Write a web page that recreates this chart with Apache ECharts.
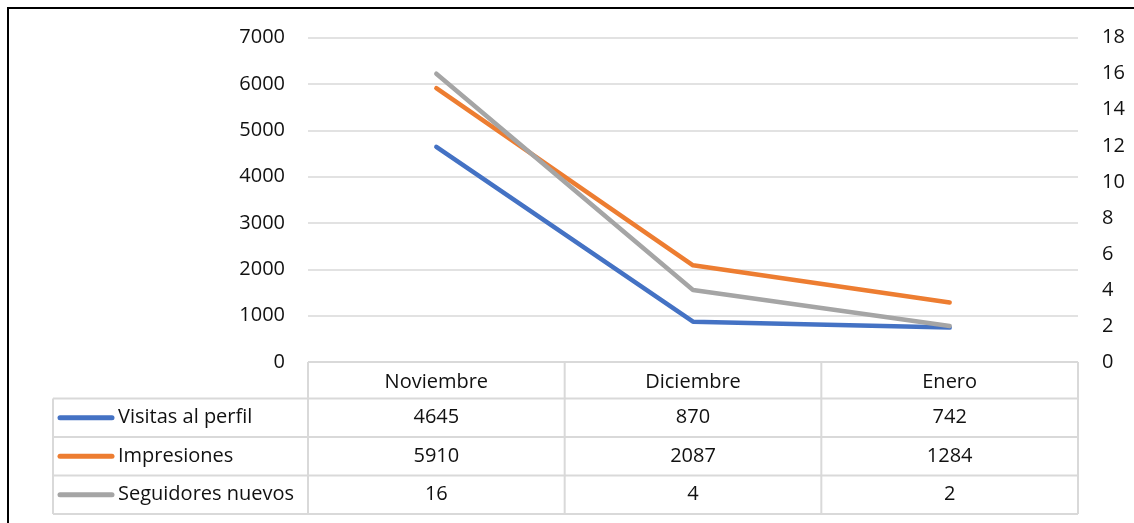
<!DOCTYPE html>
<html>
<head>
<meta charset="utf-8">
<script src="https://cdn.jsdelivr.net/npm/echarts@6/dist/echarts.min.js"></script>
<style>
  html, body { margin: 0; padding: 0; background: #fff; }
  #main { width: 1134px; height: 523px; }
</style>
</head>
<body>
<div id="main"></div>
<script>
// data
const months = ['Noviembre', 'Diciembre', 'Enero']
const visitas = [4645, 870, 742]
const impresiones = [5910, 2087, 1284]
const seguidores = [16, 4, 2]
const seriesNames = ['Visitas al perfil', 'Impresiones', 'Seguidores nuevos']
const colors = ['#4472C4', '#ED7D31', '#A5A5A5']

const font = '"Open Sans", "Noto Sans", sans-serif'
const txt = '#111'
const gridColor = '#d9d9d9'

let chart = echarts.init(document.getElementById('main'))

chart.setOption({
  animation: false,
  grid: { left: 308, right: 56, top: 37.7, bottom: 161 },
  xAxis: {
    type: 'category',
    data: months,
    boundaryGap: true,
    axisLine: { show: false },
    axisTick: { show: false },
    axisLabel: { color: txt, fontFamily: font, fontSize: 20, margin: 10 },
  },
  yAxis: [
    {
      type: 'value',
      min: 0, max: 7000, interval: 1000,
      axisLine: { show: false },
      axisTick: { show: false },
      axisLabel: { color: txt, fontFamily: font, fontSize: 20, margin: 23, formatter: v => String(v) },
      splitLine: { lineStyle: { color: gridColor, width: 1.5 } },
    },
    {
      type: 'value',
      min: 0, max: 18, interval: 2,
      axisLine: { show: false },
      axisTick: { show: false },
      axisLabel: { color: txt, fontFamily: font, fontSize: 20, margin: 24 },
      splitLine: { show: false },
    },
  ],
  series: [
    { name: seriesNames[0], type: 'line', data: visitas, yAxisIndex: 0 },
    { name: seriesNames[1], type: 'line', data: impresiones, yAxisIndex: 0 },
    { name: seriesNames[2], type: 'line', data: seguidores, yAxisIndex: 1 },
  ].map((s, i) => ({
    ...s,
    symbol: 'none',
    z: 3 + i,
    lineStyle: { color: colors[i], width: 4.5, cap: 'round', join: 'round' },
    itemStyle: { color: colors[i] },
  })),
})

// data table under the plot, columns follow the category axis
function drawTable() {
  const centers = months.map((m, i) => chart.convertToPixel({ xAxisIndex: 0 }, i))
  const band = centers[1] - centers[0]
  const colEdges = [centers[0] - band / 2].concat(centers.map(c => c + band / 2))
  const tableLeft = 53
  const rowTops = [362, 398.5, 437, 475.5, 514]
  const rows = [visitas, impresiones, seguidores]
  const line = (x1, y1, x2, y2) => ({
    type: 'line',
    shape: { x1, y1, x2, y2 },
    style: { stroke: gridColor, lineWidth: 2 },
    silent: true,
  })
  const els = []
  // outer chart border
  els.push({
    type: 'rect',
    shape: { x: 8, y: 8, width: 1200, height: 600 },
    style: { fill: null, stroke: '#000', lineWidth: 2 },
    silent: true,
  })
  // horizontal lines
  els.push(line(colEdges[0], rowTops[0], colEdges[3], rowTops[0]))
  for (let r = 1; r < rowTops.length; r++) {
    els.push(line(tableLeft, rowTops[r], colEdges[3], rowTops[r]))
  }
  // vertical lines
  colEdges.forEach(x => els.push(line(x, rowTops[0], x, rowTops[4])))
  els.push(line(tableLeft, rowTops[1], tableLeft, rowTops[4]))
  // rows
  rows.forEach((vals, r) => {
    const cy = (rowTops[r + 1] + rowTops[r + 2]) / 2
    els.push({
      type: 'line',
      shape: { x1: 60, y1: cy, x2: 112, y2: cy },
      style: { stroke: colors[r], lineWidth: 5, lineCap: 'round' },
      silent: true,
    })
    els.push({
      type: 'text',
      x: 118, y: cy,
      style: { text: seriesNames[r], fill: txt, font: '20px ' + font, textVerticalAlign: 'middle' },
      silent: true,
    })
    vals.forEach((v, c) => {
      els.push({
        type: 'text',
        x: centers[c], y: cy,
        style: { text: String(v), fill: txt, font: '20px ' + font, textAlign: 'center', textVerticalAlign: 'middle' },
        silent: true,
      })
    })
  })
  chart.setOption({ graphic: els })
}
drawTable()
</script>
</body>
</html>
